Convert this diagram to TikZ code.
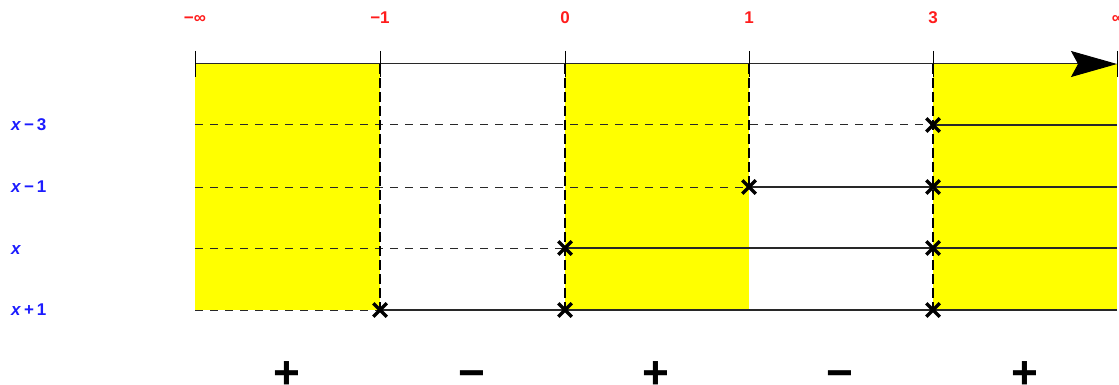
\documentclass[tikz,border=0pt]{standalone}
\usepackage{fontspec}
\setmainfont{Liberation Sans}
\usepackage{tikz}
\usetikzlibrary{arrows.meta,shapes.misc}
\definecolor{sgYellow}{RGB}{255,255,0}
\definecolor{sgRed}{RGB}{255,28,28}
\definecolor{sgBlue}{RGB}{28,28,255}
\definecolor{sgLine}{RGB}{40,40,40}
\tikzset{
  sgBand/.style={fill=sgYellow, draw=none},
  sgAxis/.style={-{Stealth[length=46pt, width=26pt, inset=7pt, black]},
                 line width=1pt, draw=sgLine},
  sgTick/.style={line width=1pt, draw=black},
  sgGuide/.style={line width=1pt, draw=sgLine, dash pattern=on 8pt off 7pt},
  sgDrop/.style={line width=1.6pt, draw=black, dash pattern=on 10pt off 4pt},
  sgSolid/.style={line width=1.2pt, draw=sgLine},
  sgRoot/.style={cross out, draw=black, line width=3.5pt, minimum size=10pt,
                 inner sep=0pt},
  sgValue/.style={text=sgRed, anchor=base, inner sep=0pt,
                  font=\fontsize{17}{17}\selectfont\bfseries},
  sgFactor/.style={text=sgBlue, anchor=base west, inner sep=0pt,
                   font=\fontsize{17}{17}\selectfont\bfseries},
  sgSign/.style={anchor=base, inner sep=0pt,
                 font=\fontsize{46}{46}\selectfont\bfseries}
}

\begin{document}
\begin{tikzpicture}[x=1pt,y=-1pt]
  \useasboundingbox (0,0) rectangle (1119,385);
  \coordinate (cA) at (195,64);
  \coordinate (cB) at (380,64);
  \coordinate (cC) at (565,64);
  \coordinate (cD) at (749,64);
  \coordinate (cE) at (933,64);
  \coordinate (cF) at (1117,64);
  \coordinate (rA) at (195,125);
  \coordinate (rB) at (195,187);
  \coordinate (rC) at (195,248);
  \coordinate (rD) at (195,310);
  \coordinate (rEnd) at (1117,310);

  \fill[sgBand] (cA) rectangle (cB |- rD);
  \fill[sgBand] (cC) rectangle (cD |- rD);
  \fill[sgBand] (cE) rectangle (rEnd);

  \node[sgValue] (vA) at (195,23.5) {−∞};
  \node[sgValue] (vB) at (380,23.5) {−1};
  \node[sgValue] (vC) at (565,23.5) {0};
  \node[sgValue] (vD) at (749,23.5) {1};
  \node[sgValue] (vE) at (933,23.5) {3};
  \node[sgValue] (vF) at (1118,23.5) {∞};

  \node[sgFactor] (fA) at (11,131) {\textit{x}\,−\,3};
  \node[sgFactor] (fB) at (11,193) {\textit{x}\,−\,1};
  \node[sgFactor] (fC) at (11,254) {\textit{x}};
  \node[sgFactor] (fD) at (11,315) {\textit{x}\,+\,1};

  \draw[sgGuide] (rA) -- (cE |- rA);
  \draw[sgSolid] (cE |- rA) -- (cF |- rA);
  \draw[sgGuide] (rB) -- (cD |- rB);
  \draw[sgSolid] (cD |- rB) -- (cF |- rB);
  \draw[sgGuide] (rC) -- (cC |- rC);
  \draw[sgSolid] (cC |- rC) -- (cF |- rC);
  \draw[sgGuide] (rD) -- (cB |- rD);
  \draw[sgSolid] (cB |- rD) -- (rEnd);

  \draw[sgDrop] (cB) -- (cB |- rD);
  \draw[sgDrop] (cC) -- (cC |- rD);
  \draw[sgDrop] (cD) -- (cD |- rB);
  \draw[sgDrop] (cE) -- (cE |- rD);

  \draw[sgAxis] (cA) -- (cF);
  \foreach \t in {cA,cB,cC,cD,cE,cF}
    \draw[sgTick] ([yshift=13pt]\t) -- ([yshift=-13pt]\t);

  \node[sgRoot] (xA) at (cE |- rA) {};
  \node[sgRoot] (xB) at (cD |- rB) {};
  \node[sgRoot] (xC) at (cE |- rB) {};
  \node[sgRoot] (xD) at (cC |- rC) {};
  \node[sgRoot] (xE) at (cE |- rC) {};
  \node[sgRoot] (xF) at (cB |- rD) {};
  \node[sgRoot] (xG) at (cC |- rD) {};
  \node[sgRoot] (xH) at (cE |- rD) {};

  \node[sgSign] (sA) at (287,388) {+};
  \node[sgSign] (sB) at (472,388) {−};
  \node[sgSign] (sC) at (656,388) {+};
  \node[sgSign] (sD) at (840,388) {−};
  \node[sgSign] (sE) at (1025,388) {+};
\end{tikzpicture}
\end{document}
